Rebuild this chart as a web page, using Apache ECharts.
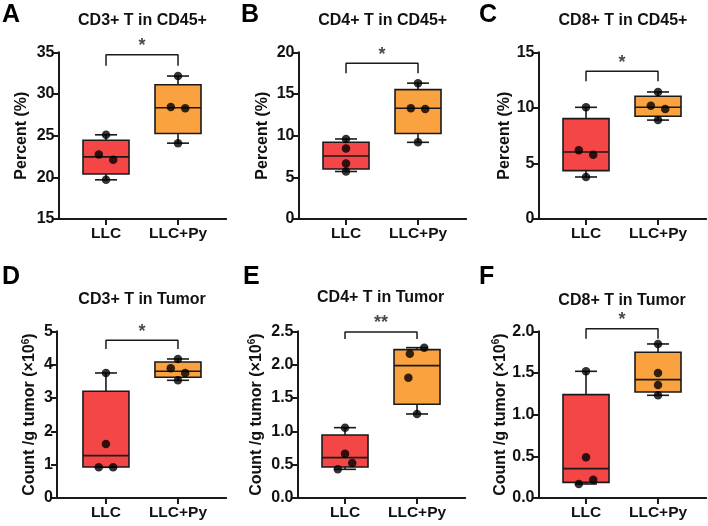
<!DOCTYPE html>
<html lang="en">
<head>
<meta charset="UTF-8" />
<title>T cells in CD45+ and tumor</title>
<script src="https://cdn.jsdelivr.net/npm/echarts@6.0.0/dist/echarts.min.js"></script>
<style>html, body { margin: 0; padding: 0; background: #fff; }</style>
</head>
<body>
<div id="chart" style="width: 708px; height: 526px"></div>
<script>
// ---- data ----
const groups = ['LLC', 'LLC+Py'];
const letters = ['A', 'B', 'C', 'D', 'E', 'F'];
const titles = ['CD3+ T in CD45+', 'CD4+ T in CD45+', 'CD8+ T in CD45+',
                'CD3+ T in Tumor', 'CD4+ T in Tumor', 'CD8+ T in Tumor'];
const yNames = ['Percent (%)', 'Percent (%)', 'Percent (%)',
                'Count /g tumor (×10{sup|6})', 'Count /g tumor (×10{sup|6})', 'Count /g tumor (×10{sup|6})'];
const stars = ['*', '*', '*', '*', '**', '*'];

const yMin = [15, 0, 0, 0, 0, 0];
const yMax = [35, 20, 15, 5, 2.5, 2];
const yStep = [5, 5, 5, 1, 0.5, 0.5];

// individual animals
const llcA = [25.1, 22.75, 22.1, 19.7];
const pyA = [32.15, 28.45, 28.3, 24.1];
const llcB = [9.6, 8.45, 6.65, 5.7];
const pyB = [16.3, 13.3, 13.2, 9.2];
const llcC = [10.05, 6.18, 5.79, 3.78];
const pyC = [11.43, 10.2, 9.9, 8.9];
const llcD = [3.75, 1.62, 0.92, 0.92];
const pyD = [4.17, 3.89, 3.75, 3.53];
const llcE = [1.055, 0.665, 0.525, 0.43];
const pyE = [2.255, 2.165, 1.805, 1.26];
const llcF = [1.52, 0.488, 0.22, 0.168];
const pyF = [1.848, 1.5, 1.356, 1.232];

// box summaries [min, Q1, median, Q3, max] for LLC, LLC+Py
const boxA = [[19.7, 20.4, 22.45, 24.45, 25.1], [24.1, 25.25, 28.35, 31.1, 32.15]];
const boxB = [[5.7, 6.0, 7.55, 9.2, 9.6], [9.2, 10.25, 13.28, 15.52, 16.3]];
const boxC = [[3.78, 4.35, 6.03, 9.03, 10.05], [8.9, 9.24, 10.05, 11.04, 11.43]];
const boxD = [[0.92, 0.93, 1.27, 3.2, 3.75], [3.53, 3.62, 3.8, 4.08, 4.17]];
const boxE = [[0.43, 0.465, 0.605, 0.945, 1.055], [1.26, 1.405, 1.985, 2.225, 2.255]];
const boxF = [[0.168, 0.188, 0.352, 1.24, 1.52], [1.232, 1.272, 1.42, 1.748, 1.848]];

// significance brackets [leg end, bar]
const bracketA = [33.4, 34.7];
const bracketB = [17.5, 18.7];
const bracketC = [12.4, 13.3];
const bracketD = [4.47, 4.73];
const bracketE = [2.385, 2.49];
const bracketF = [1.91, 2.03];

const llcPts = [llcA, llcB, llcC, llcD, llcE, llcF];
const pyPts = [pyA, pyB, pyC, pyD, pyE, pyF];
const boxes = [boxA, boxB, boxC, boxD, boxE, boxF];
const brackets = [bracketA, bracketB, bracketC, bracketD, bracketE, bracketF];

// ---- layout ----
const jitLLC = [[0, -0.1, 0.1, 0], [0, 0, 0, 0], [0, -0.1, 0.1, 0], [0, 0, -0.1, 0.1], [0, 0, 0.1, -0.1], [0, 0, 0.1, -0.1]];
const jitPy = [[0, -0.1, 0.1, 0], [0, -0.1, 0.1, 0], [0, -0.1, 0.1, 0], [0, -0.1, 0.1, 0], [0.1, -0.1, -0.12, 0], [0, 0, 0, 0]];
const gridLeft = [58.5, 298.5, 538.5, 57, 297.5, 538.5];
const gridTop = [52.3, 52.3, 52.3, 331.3, 331.3, 331.3];
const xMin = [-0.66, -0.66, -0.66, -0.68, -0.66, -0.66];
const xMax = 1.67;
const unit = 72;      // px between the two groups
const plotH = 166.7;
const nameGaps = [28.5, 27.5, 24, 18, 32, 28];
const letterPos = [[2, 15], [241, 15], [479, 15], [2, 277], [243, 277], [479, 277]];
const titlePos = [[142.5, 20.5], [382.7, 20.5], [623, 20.5], [142, 300], [380.7, 297.7], [622, 301]];

const fills = ['#F44646', '#F9A23F'];
const ink = '#1a1a1a';
const FONT = "'Liberation Sans', Arial, sans-serif";

const chart = echarts.init(document.getElementById('chart'));

function renderBox(params, api) {
  const x = api.value(0);
  const lo = api.coord([x, api.value(1)]);
  const q1 = api.coord([x, api.value(2)]);
  const md = api.coord([x, api.value(3)]);
  const q3 = api.coord([x, api.value(4)]);
  const hi = api.coord([x, api.value(5)]);
  const cx = lo[0], bw = 46, cw = 22;
  const ls = { stroke: ink, lineWidth: 1.6 };
  return {
    type: 'group',
    children: [
      { type: 'line', shape: { x1: cx, y1: hi[1], x2: cx, y2: q3[1] }, style: ls },
      { type: 'line', shape: { x1: cx, y1: q1[1], x2: cx, y2: lo[1] }, style: ls },
      { type: 'line', shape: { x1: cx - cw / 2, y1: hi[1], x2: cx + cw / 2, y2: hi[1] }, style: ls },
      { type: 'line', shape: { x1: cx - cw / 2, y1: lo[1], x2: cx + cw / 2, y2: lo[1] }, style: ls },
      { type: 'rect', shape: { x: cx - bw / 2, y: q3[1], width: bw, height: q1[1] - q3[1] },
        style: { fill: api.visual('color'), stroke: ink, lineWidth: 1.6 } },
      { type: 'line', shape: { x1: cx - bw / 2, y1: md[1], x2: cx + bw / 2, y2: md[1] }, style: ls }
    ]
  };
}

const grids = [], xAxes = [], yAxes = [], series = [], graphics = [];

for (let i = 0; i < 6; i++) {
  grids.push({
    left: gridLeft[i], top: gridTop[i],
    width: (xMax - xMin[i]) * unit, height: plotH,
    outerBoundsMode: 'none', containLabel: false
  });
  xAxes.push({
    type: 'value', gridIndex: i, min: xMin[i], max: xMax,
    axisLine: { show: true, onZero: false, lineStyle: { color: ink, width: 2 } },
    axisTick: { show: true, customValues: [0, 1], length: 6, lineStyle: { color: ink, width: 2 } },
    axisLabel: {
      show: true, customValues: [0, 1], margin: 7,
      formatter: v => groups[Math.round(v)],
      fontFamily: FONT, fontWeight: 'bold', fontSize: 15.5, color: '#111'
    },
    splitLine: { show: false }
  });
  yAxes.push({
    type: 'value', gridIndex: i, min: yMin[i], max: yMax[i], interval: yStep[i],
    name: yNames[i], nameLocation: 'middle', nameGap: nameGaps[i],
    nameTextStyle: {
      fontFamily: FONT, fontWeight: 'bold', fontSize: 16, color: '#111',
      rich: { sup: { fontFamily: FONT, fontWeight: 'bold', fontSize: 10, color: '#111', verticalAlign: 'top', lineHeight: 18 } }
    },
    axisLine: { show: true, onZero: false, lineStyle: { color: ink, width: 2 } },
    axisTick: { show: true, length: 6, lineStyle: { color: ink, width: 2 } },
    axisLabel: {
      margin: 4, fontFamily: FONT, fontWeight: 'bold', fontSize: 16, color: '#111',
      formatter: v => (yStep[i] < 1 ? v.toFixed(1) : String(v))
    },
    splitLine: { show: false }
  });

  series.push({
    type: 'custom', xAxisIndex: i, yAxisIndex: i, z: 2, silent: true,
    renderItem: renderBox,
    data: boxes[i].map((b, g) => ({ value: [g].concat(b), itemStyle: { color: fills[g] } }))
  });

  const pts = llcPts[i].map((v, k) => [jitLLC[i][k], v])
    .concat(pyPts[i].map((v, k) => [1 + jitPy[i][k], v]));
  series.push({
    type: 'scatter', xAxisIndex: i, yAxisIndex: i, z: 3, silent: true,
    symbol: 'circle', symbolSize: 8.5, itemStyle: { color: '#000' },
    data: pts
  });

  const br = brackets[i];
  series.push({
    type: 'line', xAxisIndex: i, yAxisIndex: i, z: 3, silent: true, clip: false,
    symbol: 'none', lineStyle: { color: ink, width: 1.5 },
    data: [[0, br[0]], [0, br[1]], [1, br[1]], [1, br[0]]]
  });
  series.push({
    type: 'scatter', xAxisIndex: i, yAxisIndex: i, z: 3, silent: true, clip: false,
    symbolSize: 1, itemStyle: { color: 'rgba(0,0,0,0)' },
    label: {
      show: true, position: 'top', distance: -1, formatter: stars[i],
      fontFamily: FONT, fontWeight: 'bold', fontSize: 18, color: ink
    },
    data: [[0.5, br[1]]]
  });

  graphics.push({
    type: 'text', x: letterPos[i][0], y: letterPos[i][1],
    style: { text: letters[i], font: 'bold 25px ' + FONT, fill: '#000', align: 'left', verticalAlign: 'middle' }
  });
  graphics.push({
    type: 'text', x: titlePos[i][0], y: titlePos[i][1],
    style: { text: titles[i], font: 'bold 16px ' + FONT, fill: '#111', align: 'center', verticalAlign: 'middle' }
  });
}

chart.setOption({
  animation: false,
  backgroundColor: '#fff',
  grid: grids,
  xAxis: xAxes,
  yAxis: yAxes,
  series: series,
  graphic: graphics
});
</script>
</body>
</html>
